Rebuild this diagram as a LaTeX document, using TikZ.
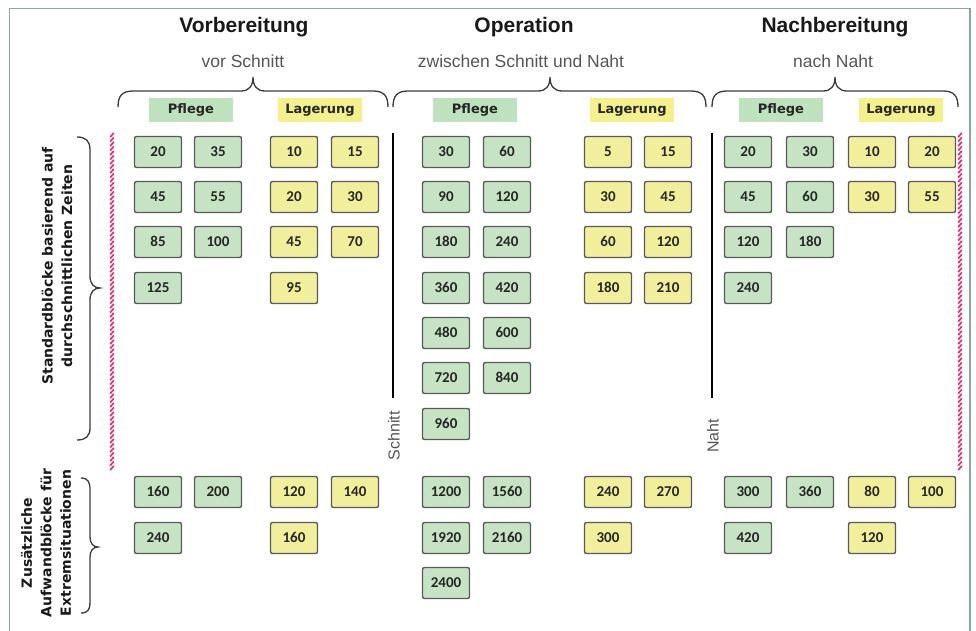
\documentclass[tikz,border=0pt]{standalone}
\usepackage{fontspec}
\setmainfont{Liberation Sans}
\newfontfamily\numfont[Numbers={Lining,Monospaced}]{Carlito}
\newfontfamily\lblfont{DejaVu Sans}
\definecolor{boxgreen}{HTML}{C6E3C4}
\definecolor{boxyellow}{HTML}{F2EF9C}
\definecolor{headgreen}{HTML}{BEE2BE}
\definecolor{headyellow}{HTML}{F4F08C}
\definecolor{boxline}{HTML}{5A5A5A}
\definecolor{framecol}{HTML}{8AA89A}
\definecolor{hatchpink}{HTML}{EC2F72}
\definecolor{subgray}{HTML}{555555}
\definecolor{bracecol}{HTML}{3A3A3A}
\begin{document}
\begin{tikzpicture}[x=1pt,y=-1pt,
  gbox/.style={draw=boxline, line width=1.4pt, fill=boxgreen, rounded corners=2pt,
    minimum width=47pt, minimum height=31pt, inner sep=0pt,
    text height=9.6pt, text depth=0pt,
    font=\numfont\bfseries\fontsize{15}{15}\selectfont, text=black!85},
  ybox/.style={gbox, fill=boxyellow},
  headbox/.style={minimum width=84pt, minimum height=24pt, inner sep=0pt,
    font=\lblfont\bfseries\fontsize{13}{14}\selectfont, text=black!85},
  title/.style={font=\bfseries\fontsize{21}{24}\selectfont, text=black!90},
  subtitle/.style={font=\fontsize{17.5}{20}\selectfont, text=subgray},
  sidelabel/.style={rotate=90, align=center, text=black!90,
    font=\lblfont\bfseries\fontsize{14}{19.5}\selectfont},
  cutlabel/.style={rotate=90, font=\fontsize{16}{18}\selectfont, text=subgray},
  cutline/.style={line width=2.4pt, black},
  bracestroke/.style={line width=1.3pt, bracecol},
  hatch/.style={line width=1.7pt, hatchpink}]

\useasboundingbox (0,0) rectangle (976,631);

% frame (open at the bottom)
\draw[framecol, line width=1.4pt] (9.5,631) -- (9.5,8.5) -- (970,8.5) -- (970,631);

% phase titles
\node[title] (t1) at (244,27) {Vorbereitung};
\node[title] (t2) at (524,27) {Operation};
\node[title] (t3) at (835,27) {Nachbereitung};
\node[subtitle] (s1) at (243,61) {vor Schnitt};
\node[subtitle] (s2) at (521,61) {zwischen Schnitt und Naht};
\node[subtitle] (s3) at (833,61) {nach Naht};

% horizontal braces under the subtitles
\foreach \xa/\xm/\xb in {118/253/388, 393/550/706, 712/835/958}{
  \draw[bracestroke] (\xa,107) .. controls (\xa,96) and (\xa+4,91) .. (\xa+15,91)
    -- (\xm-12,91) .. controls (\xm-4,91) and (\xm,86) .. (\xm,77)
    .. controls (\xm,86) and (\xm+4,91) .. (\xm+12,91)
    -- (\xb-15,91) .. controls (\xb-4,91) and (\xb,96) .. (\xb,107);
}

% column headings
\node[headbox, fill=headgreen]  (h1p) at (191,110) {Pflege};
\node[headbox, fill=headyellow] (h1l) at (320,110) {Lagerung};
\node[headbox, fill=headgreen]  (h2p) at (475,110) {Pflege};
\node[headbox, fill=headyellow] (h2l) at (632,110) {Lagerung};
\node[headbox, fill=headgreen]  (h3p) at (781,110) {Pflege};
\node[headbox, fill=headyellow] (h3l) at (901,110) {Lagerung};

% row labels with vertical braces
\node[sidelabel] (lstd) at (57,266) {Standardblöcke basierend auf\\durchschnittlichen Zeiten};
\node[sidelabel] (lext) at (46,543) {Zusätzliche\\Aufwandblöcke für\\Extremsituationen};
\draw[bracestroke] (77,137) .. controls (86,137) and (90,141) .. (90,150)
  -- (90,276) .. controls (90,284) and (94,288) .. (100,288)
  .. controls (94,288) and (90,292) .. (90,300)
  -- (90,428) .. controls (90,436) and (86,440) .. (77,440);
\draw[bracestroke] (81,478) .. controls (88,478) and (90,482) .. (90,490)
  -- (90,537) .. controls (90,543) and (93,547) .. (98,547)
  .. controls (93,547) and (90,551) .. (90,557)
  -- (90,603) .. controls (90,609) and (88,613) .. (81,613);

% hatched boundary lines of the standard block area
\foreach \xx in {112,960}{
  \foreach \yy in {135,139.5,...,468}{
    \draw[hatch] (\xx-1.8,\yy+2) -- (\xx+1.8,\yy-2);
  }
}

% incision and suture markers
\coordinate (cs1) at (393,133);
\coordinate (cs2) at (393,398);
\coordinate (cn1) at (712,133);
\coordinate (cn2) at (712,398);
\draw[cutline] (cs1) -- (cs2);
\draw[cutline] (cn1) -- (cn2);
\node[cutlabel] (lschnitt) at (394,436) {Schnitt};
\node[cutlabel] (lnaht) at (713,436) {Naht};

% care blocks (green)
\foreach \cx/\cy/\t in {
  158/152/20, 218/152/35, 158/197/45, 218/197/55, 158/242/85, 218/242/100, 158/288/125,
  158/492/160, 218/492/200, 158/538/240,
  446/152/30, 507/152/60, 446/197/90, 507/197/120, 446/242/180, 507/242/240,
  446/288/360, 507/288/420, 446/333/480, 507/333/600, 446/378/720, 507/378/840, 446/424/960,
  446/492/1200, 507/492/1560, 446/538/1920, 507/538/2160, 446/583/2400,
  748/152/20, 810/152/30, 748/197/45, 810/197/60, 748/242/120, 810/242/180, 748/288/240,
  748/492/300, 810/492/360, 748/538/420}{
  \node[gbox] (g-\cx-\cy) at (\cx,\cy) {\t};
}

% positioning blocks (yellow)
\foreach \cx/\cy/\t in {
  294/152/10, 355/152/15, 294/197/20, 355/197/30, 294/242/45, 355/242/70, 294/288/95,
  294/492/120, 355/492/140, 294/538/160,
  608/152/5, 668/152/15, 608/197/30, 668/197/45, 608/242/60, 668/242/120,
  608/288/180, 668/288/210,
  608/492/240, 668/492/270, 608/538/300,
  872/152/10, 932/152/20, 872/197/30, 932/197/55,
  872/492/80, 932/492/100, 872/538/120}{
  \node[ybox] (y-\cx-\cy) at (\cx,\cy) {\t};
}
\end{tikzpicture}
\end{document}
